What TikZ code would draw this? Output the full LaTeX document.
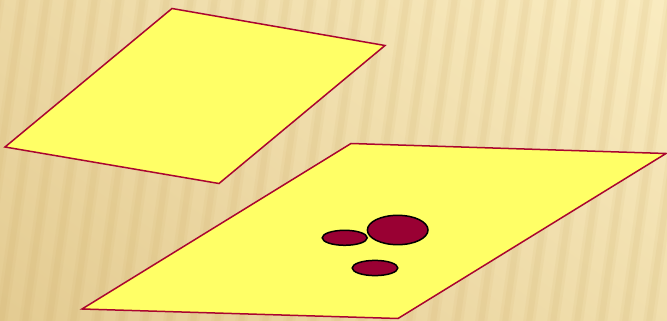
\documentclass[tikz,border=0pt]{standalone}
\definecolor{bglight}{HTML}{FDF1C8}
\definecolor{bgdark}{HTML}{E0C68A}
\definecolor{stripe}{HTML}{C8A45A}
\definecolor{plane}{HTML}{FFFF66}
\definecolor{planeedge}{HTML}{AA0530}
\definecolor{blob}{HTML}{990033}
\tikzset{
  planebox/.style={fill=plane, draw=planeedge, line width=1.5pt, line join=miter},
  blobshape/.style={fill=blob, draw=black, line width=1.5pt}
}
\begin{document}
\begin{tikzpicture}[x=1pt,y=-1pt]
\useasboundingbox (0,0) rectangle (667,321);
\begin{scope}
\clip (0,0) rectangle (667,321);
\shade[shading=axis, top color=bglight, bottom color=bgdark, shading angle=-35] (-200,-200) rectangle (867,521);
\foreach \i in {-4,...,30} {
  \draw[stripe, line width=12pt, opacity=0.08] (\i*24,330) -- (\i*24+48,-10);
  \draw[stripe, line width=6pt, opacity=0.09] (\i*24,330) -- (\i*24+48,-10);
}
\end{scope}
% upper plane
\coordinate (ua) at (172,8.5);
\coordinate (ub) at (385,45.5);
\coordinate (uc) at (219,183.5);
\coordinate (ud) at (5,147);
\draw[planebox] (ua) -- (ub) -- (uc) -- (ud) -- cycle;
% lower plane
\coordinate (la) at (351,143.5);
\coordinate (lb) at (666,153.5);
\coordinate (lc) at (398,318.5);
\coordinate (ld) at (82,309);
\draw[planebox] (la) -- (lb) -- (lc) -- (ld) -- cycle;
% blobs
\draw[blobshape] (344.7,237.8) ellipse [x radius=22.5, y radius=7.5];
\draw[blobshape] (397.7,230) ellipse [x radius=30.3, y radius=14.7];
\draw[blobshape] (375,268) ellipse [x radius=22.8, y radius=7.6];
\end{tikzpicture}
\end{document}
